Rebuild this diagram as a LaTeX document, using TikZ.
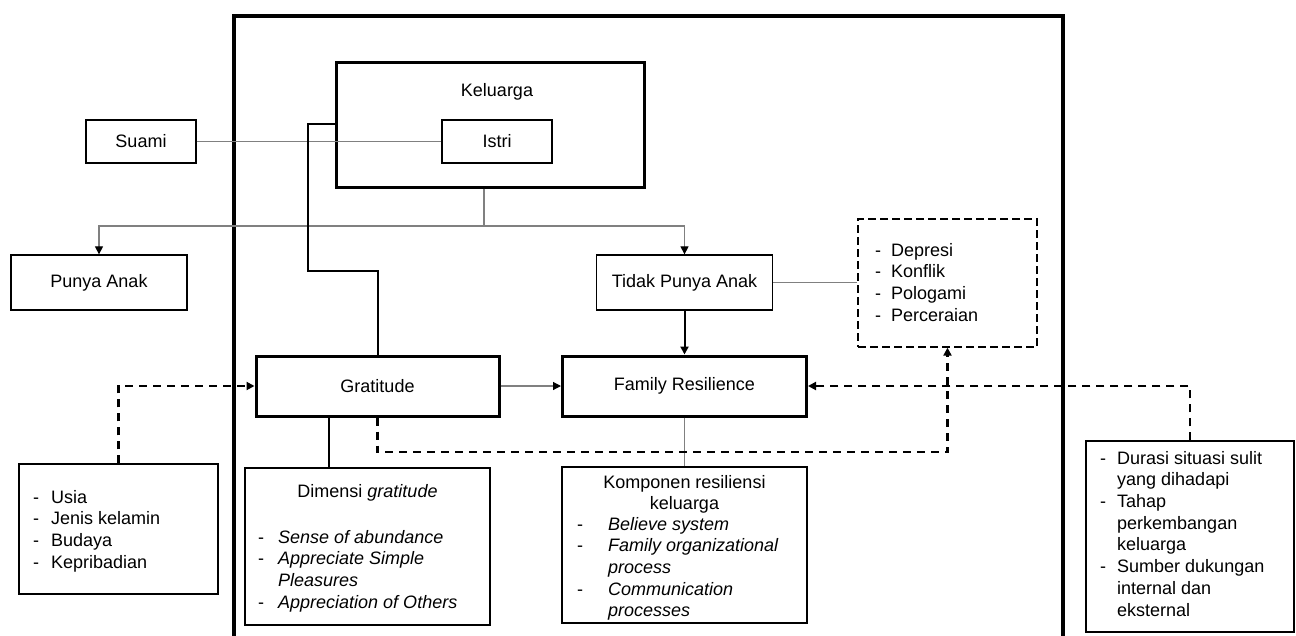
\documentclass[tikz,border=0pt]{standalone}
\usepackage{fontspec}
\setmainfont{Liberation Sans}
\usetikzlibrary{arrows.meta}
\newcommand\itm[1]{\makebox[#1][l]{-}}
\begin{document}
\begin{tikzpicture}[x=1pt,y=-1pt,
  every node/.style={font=\fontsize{18}{21.7}\selectfont, inner sep=0pt},
  box/.style={draw, line width=1.3pt, rectangle},
  thickbox/.style={draw, line width=3pt, rectangle},
  dbox/.style={draw, line width=1.3pt, dash pattern=on 8pt off 4pt},
  listtxt/.style={anchor=north west, align=left},
  glink/.style={draw=gray, line width=1.2pt},
  tip/.style={-{Triangle[length=8pt,width=8pt,color=black]}},
  dline/.style={line width=2.5pt, dash pattern=on 8pt off 6pt},
  bline/.style={line width=2pt},
]
\useasboundingbox (0,0) rectangle (1296,635);
% frame
\draw[line width=3.5pt] (234,645) -- (234,16) -- (1063,16) -- (1063,645);

% boxes
\node[box, minimum width=110pt, minimum height=43pt] (suami) at (141,141.5) {Suami};
\node[thickbox, minimum width=308pt, minimum height=125pt] (kel) at (490,124.5) {};
\node (kelt) at (497,92) {Keluarga};
\node[box, minimum width=110pt, minimum height=43pt] (istri) at (497,141.5) {Istri};
\node[box, minimum width=176pt, minimum height=55pt] (punya) at (99,282.5) {Punya Anak};
\node[box, minimum width=176pt, minimum height=55pt] (tidak) at (684.5,282.5) {Tidak Punya Anak};
\node[dbox, minimum width=179pt, minimum height=128pt] (dbx) at (947.5,283) {};
\node[listtxt] (dlist) at (875,240.8) {\strut\itm{16pt}Depresi\\\itm{16pt}Konflik\\\itm{16pt}Pologami\\\itm{16pt}Perceraian};
\node[thickbox, minimum width=243pt, minimum height=60pt] (grat) at (377.5,386) {Gratitude};
\node[thickbox, minimum width=244pt, minimum height=60pt] (fr) at (684.5,386) {Family Resilience};

\node[box, minimum width=199pt, minimum height=130pt] (leftb) at (118.5,529) {};
\node[listtxt] (leftl) at (33,487.8) {\strut\itm{18pt}Usia\\\itm{18pt}Jenis kelamin\\\itm{18pt}Budaya\\\itm{18pt}Kepribadian};

\node[box, minimum width=245pt, minimum height=157pt] (dim) at (367.5,546.5) {};
\node (dimt) at (367.5,493) {Dimensi \textit{gratitude}};
\node[listtxt] (diml) at (258,527.8) {\strut\itm{20pt}\textit{Sense of abundance}\\\itm{20pt}\textit{Appreciate Simple}\\\hspace*{20pt}\textit{Pleasures}\\\itm{20pt}\textit{Appreciation of Others}};

\node[box, minimum width=245pt, minimum height=156pt] (komp) at (684.5,545) {};
\node[anchor=north, align=center] (kompt) at (684.5,472.8) {\strut Komponen resiliensi\\keluarga};
\node[listtxt] (kompl) at (577,514.8) {\strut\itm{31pt}\textit{Believe system}\\\itm{31pt}\textit{Family organizational}\\\hspace*{31pt}\textit{process}\\\itm{31pt}\textit{Communication}\\\hspace*{31pt}\textit{processes}};

\node[box, minimum width=208pt, minimum height=191pt] (dur) at (1190,536.5) {};
\node[listtxt] (durl) at (1100,448.8) {\strut\itm{17pt}Durasi situasi sulit\\\hspace*{17pt}yang dihadapi\\\itm{17pt}Tahap\\\hspace*{17pt}perkembangan\\\hspace*{17pt}keluarga\\\itm{17pt}Sumber dukungan\\\hspace*{17pt}internal dan\\\hspace*{17pt}eksternal};

% connectors
\draw[glink] (suami.east) -- (istri.west);
\coordinate (k1) at (484,226);
\draw[glink] (kel.south -| k1) -- (k1);
\draw[glink, tip] (k1) -| (punya.north);
\draw[glink, tip] (k1) -| (tidak.north);
\draw[glink] (tidak.east) -- (dbx.west |- tidak.east);
\draw[bline, tip] (tidak.south) -- (fr.north);
\draw[glink, tip] (grat.east) -- (fr.west);
\draw[glink] (fr.south) -- (komp.north);

\coordinate (g1) at (308,124);
\coordinate (g2) at (308,271);
\draw[bline] (kel.west |- g1) -- (g1) -- (g2) -| (grat.north);
\coordinate (gd) at (329,0);
\draw[bline] (grat.south -| gd) -- (dim.north -| gd);

\draw[dline, tip] (leftb.north) |- (grat.west);
\draw[dline, tip] (dur.north) |- (fr.east);
\coordinate (m1) at (378,452);
\draw[dline, tip] (grat.south) -- (grat.south |- m1) -| (dbx.south);
\end{tikzpicture}
\end{document}
